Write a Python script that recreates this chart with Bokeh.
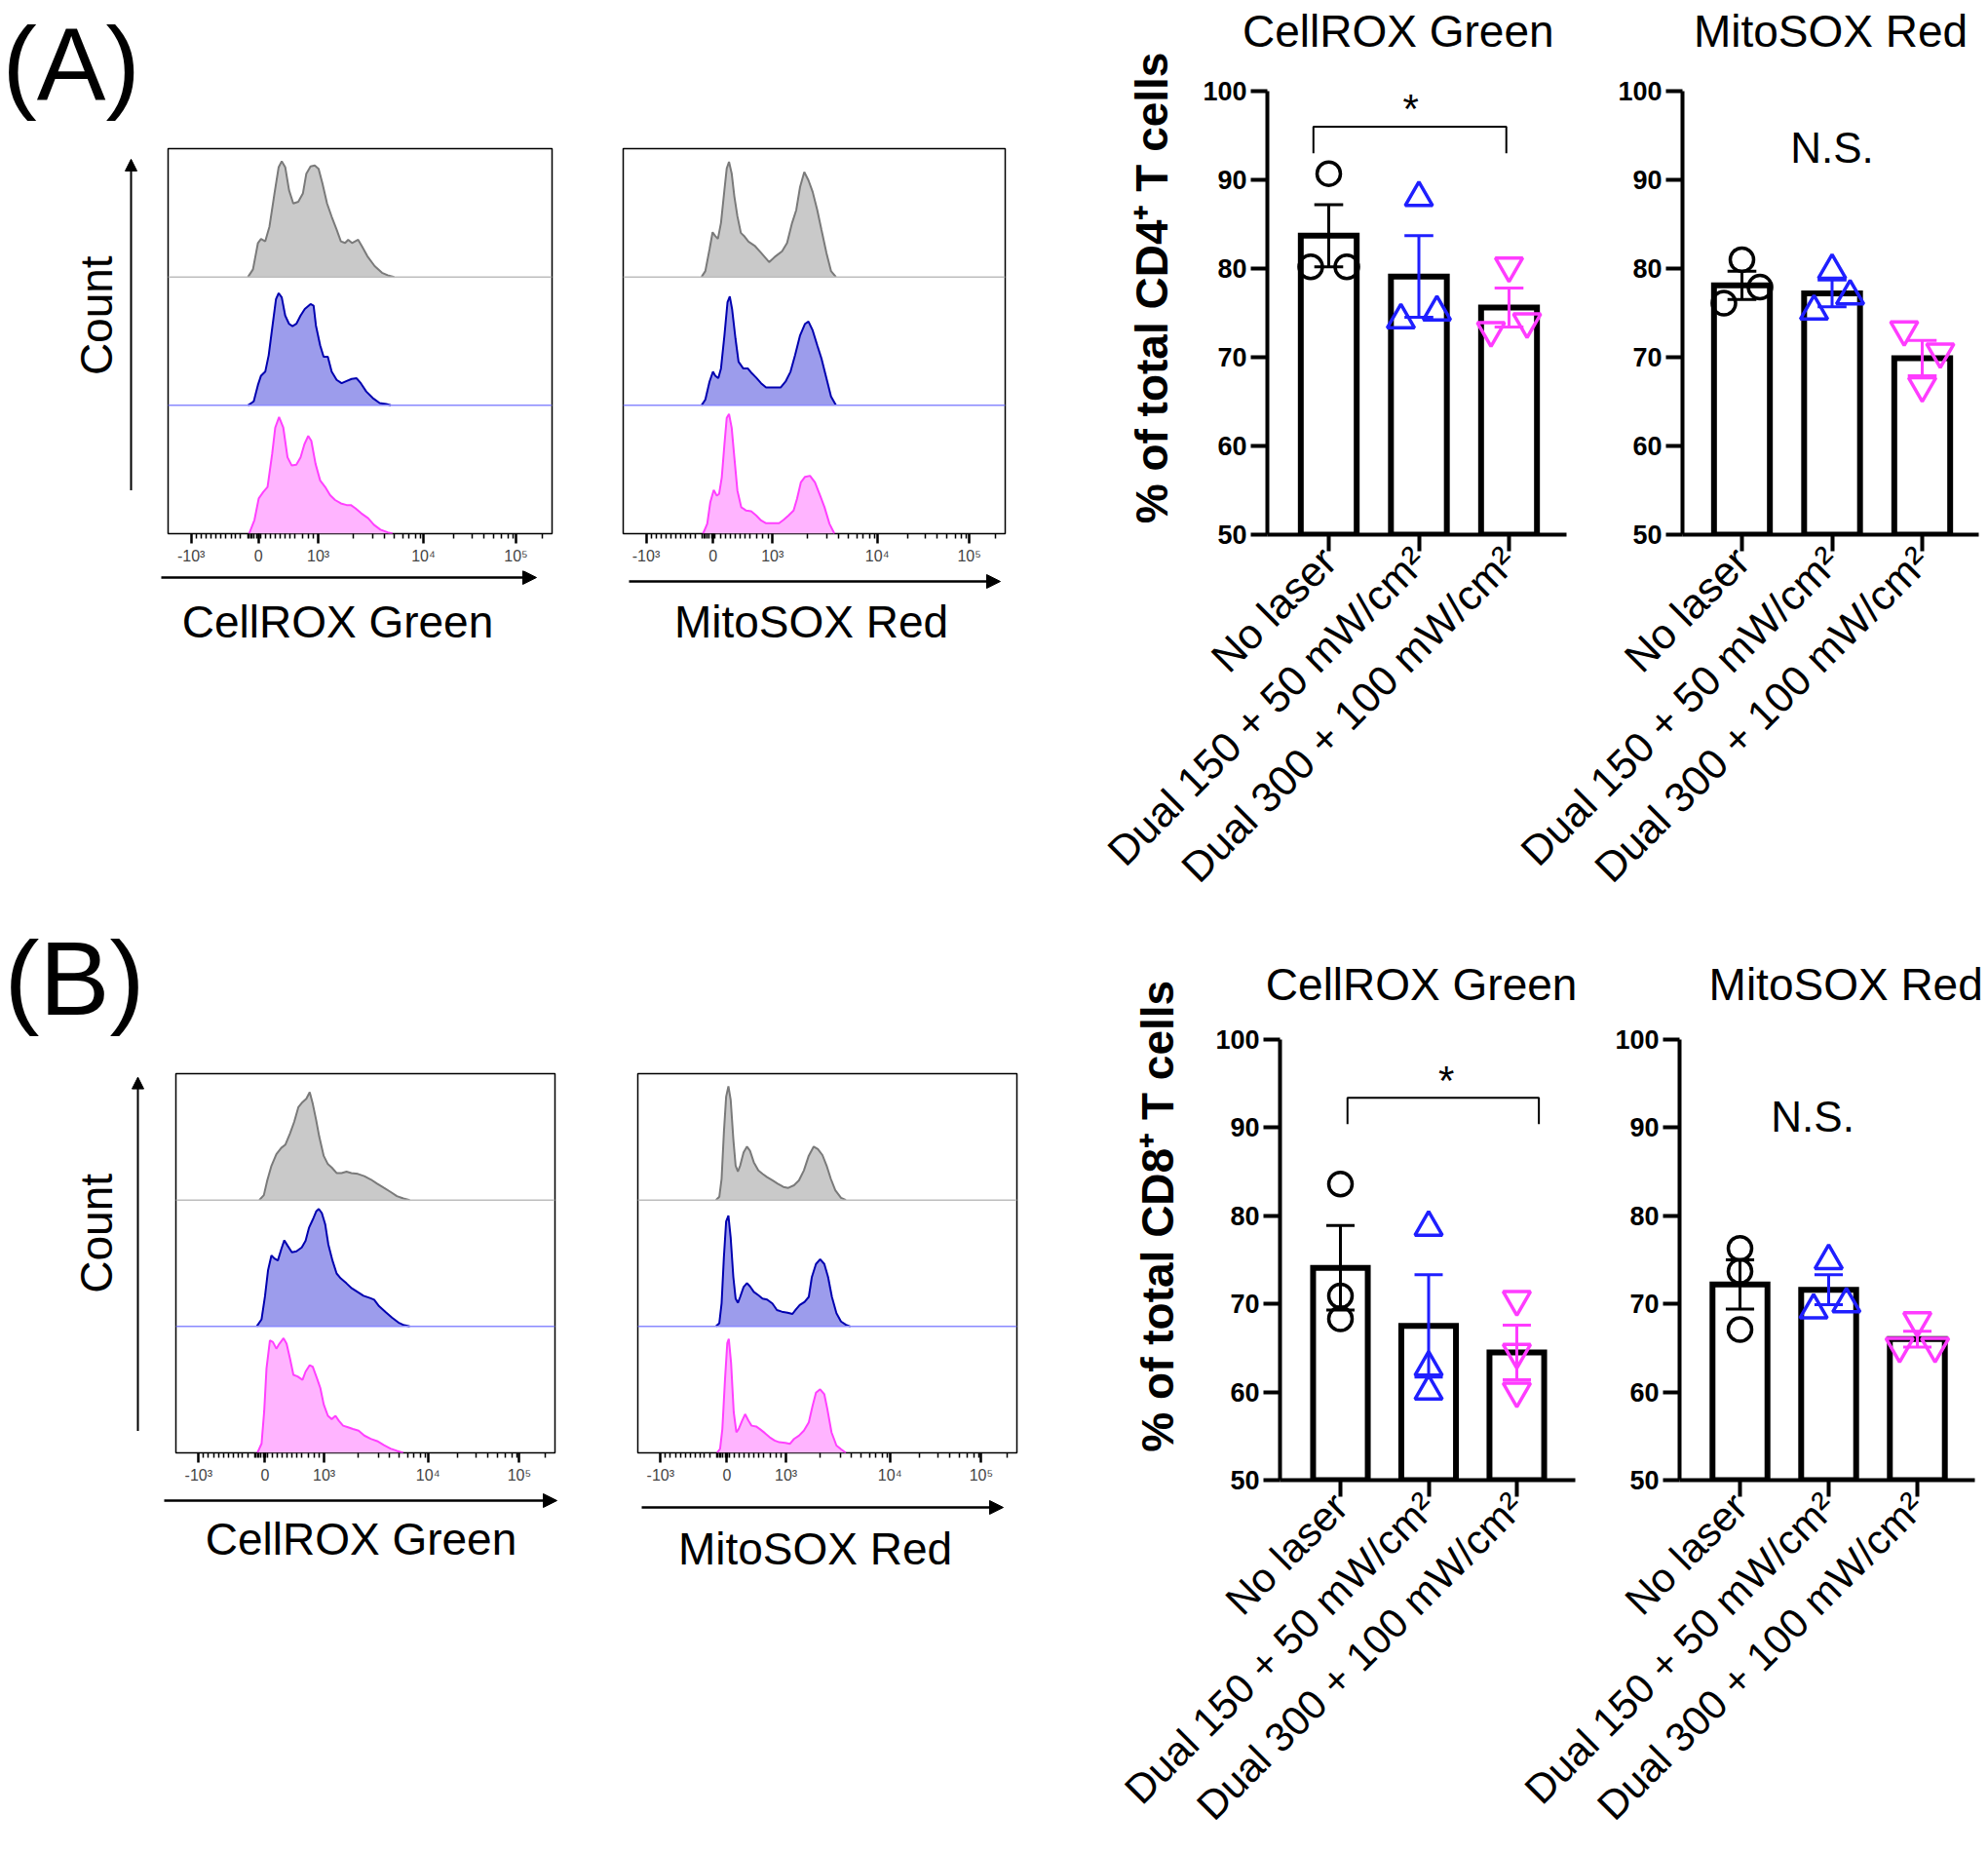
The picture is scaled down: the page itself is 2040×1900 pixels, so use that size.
import math
from bokeh.plotting import figure
from bokeh.layouts import row, column
from bokeh.models import Range1d, FixedTicker, Arrow, NormalHead, Span, Spacer, LinearAxis
from bokeh.core.properties import value
from bokeh.embed import file_html
from bokeh.resources import INLINE

FONT = "Liberation Sans"
NB = "\u00a0"

# ---------------- categories / styles ----------------
GROUPS = ["No laser", "Dual 150 + 50 mW/cm²", "Dual 300 + 100 mW/cm²"]
CAT_POS = [1, 2, 3]
Y_TICKS = [50, 60, 70, 80, 90, 100]
GROUP_COLORS = ["#000000", "#1f1fff", "#ff3cff"]
GROUP_MARKERS = ["circle", "triangle", "inverted_triangle"]
MARKER_SIZES = [24, 28, 28]
HIST_FILL = ["#c9c9c9", "#9c9cec", "#ffb4ff"]
HIST_LINE = ["#7a7a7a", "#0000b0", "#ff40ff"]
HIST_BASE = ["#bdbdbd", "#8a8aff"]

# ---------------- bar chart data (% of total cells) ----------------
cd4_cellrox_mean = [83.7, 79.1, 75.6]
cd4_cellrox_sem = [3.5, 4.6, 2.2]
cd4_cellrox_pts = [[90.7, 80.2, 80.2], [88.0, 74.2, 75.1], [80.3, 73.0, 74.0]]
cd4_cellrox_jit = [[0, -0.2, 0.2], [0, -0.2, 0.2], [0, -0.2, 0.2]]

cd4_mitosox_mean = [78.1, 77.2, 69.9]
cd4_mitosox_sem = [1.6, 1.5, 2.0]
cd4_mitosox_pts = [[81.0, 76.1, 77.9], [79.8, 75.2, 76.9], [66.8, 73.1, 70.6]]
cd4_mitosox_jit = [[0, -0.2, 0.2], [0, -0.2, 0.2], [0, -0.2, 0.2]]

cd8_cellrox_mean = [74.1, 67.5, 64.5]
cd8_cellrox_sem = [4.8, 5.8, 3.1]
cd8_cellrox_pts = [[83.6, 70.9, 68.3], [78.7, 62.8, 60.1], [70.5, 64.5, 60.1]]
cd8_cellrox_jit = [[0, 0, 0], [0, 0, 0], [0, 0, 0]]

cd8_mitosox_mean = [72.2, 71.6, 66.0]
cd8_mitosox_sem = [2.8, 1.7, 0.9]
cd8_mitosox_pts = [[76.3, 73.7, 67.1], [74.9, 69.3, 70.0], [68.1, 65.2, 65.2]]
cd8_mitosox_jit = [[0, 0, 0], [0, -0.17, 0.2], [0, -0.2, 0.2]]

# significance marks (category units / % values):
# bracket (x left, x right, top, leg bottom), star (x, y), N.S. (x, y)
cd4_cellrox_bracket = (0.83, 2.97, 96.0, 93.0)
cd4_cellrox_star = (1.91, 98.0)
cd4_mitosox_ns = (2.0, 93.6)
cd8_cellrox_bracket = (1.08, 3.25, 93.4, 90.4)
cd8_cellrox_star = (2.2, 95.4)
cd8_mitosox_ns = (1.82, 91.3)

# ---------------- flow histogram axis (display units 0-100 across box) ----------------
HIST_TICKS = [6.0, 23.5, 39.1, 66.5, 90.6]
HIST_TICK_LABELS = ["-10³", "0", "10³", "10⁴", "10⁵"]
HIST_MINOR = [7.3, 8.6, 9.9, 11.2, 12.5, 13.8, 15.1, 16.4, 17.6, 18.9, 20.7, 21.1, 21.5,
              21.9, 22.4, 23.2, 23.7, 24.1, 25.4, 26.7, 28.0, 29.3, 30.5, 31.8, 33.1, 34.9,
              36.6, 37.9, 48.2, 53.4, 56.4, 58.9, 61.1, 62.8, 64.5, 65.7, 74.4, 79.2, 82.2,
              84.8, 86.9, 88.6, 89.9, 97.5]

# ---- CD4 CellROX Green histograms (x: display units, h: % of row height)
cd4_cr_nl_x = [20.8, 22.1, 23.4, 24.2, 25.3, 26.4, 27.7, 28.8, 29.6, 30.5, 31.5, 32.6, 33.9, 35.1, 36.0, 37.1, 38.2, 39.2, 40.2, 41.4, 42.6, 43.9, 45.0, 46.1, 46.9, 47.9, 49.5, 50.5, 51.9, 53.8, 55.7, 57.2, 58.9]
cd4_cr_nl_h = [0, 5.9, 26.5, 29.6, 27.8, 39.3, 65.0, 85.6, 90.2, 85.6, 67.6, 57.3, 58.6, 65.0, 80.5, 86.1, 86.9, 84.3, 72.8, 57.3, 47.0, 36.8, 27.8, 26.5, 29.0, 26.5, 29.0, 23.9, 16.2, 8.5, 3.3, 1.3, 0]
cd4_cr_150_x = [20.8, 22.3, 23.4, 24.2, 25.3, 26.2, 27.2, 28.1, 28.8, 29.6, 30.5, 31.5, 32.4, 33.4, 34.5, 35.6, 37.1, 37.9, 38.5, 39.6, 40.5, 41.6, 42.6, 43.9, 45.2, 46.5, 47.8, 49.1, 50.2, 51.6, 53.3, 55.1, 56.8, 58.0]
cd4_cr_150_h = [0, 3.1, 15.9, 23.1, 26.2, 39.1, 62.2, 82.8, 87.4, 84.1, 69.9, 63.5, 61.7, 63.5, 69.9, 75.1, 78.9, 77.6, 62.2, 46.8, 37.8, 37.8, 26.2, 19.8, 17.2, 19.0, 20.6, 21.1, 17.2, 10.8, 5.7, 1.8, 1.0, 0]
cd4_cr_300_x = [21.1, 22.5, 23.6, 24.8, 25.9, 27.1, 27.9, 28.9, 30.0, 31.1, 32.2, 33.4, 34.5, 35.5, 36.5, 37.3, 38.4, 39.6, 40.9, 42.2, 43.5, 45.0, 46.5, 47.6, 48.8, 50.3, 52.1, 53.6, 55.3, 57.2, 58.5]
cd4_cr_300_h = [0, 10.8, 27.4, 32.6, 36.4, 62.1, 82.6, 90.8, 82.6, 59.5, 53.1, 53.8, 59.5, 69.7, 76.2, 72.3, 54.4, 41.5, 36.4, 30.0, 26.2, 23.6, 22.3, 22.3, 19.7, 15.9, 12.1, 6.9, 3.1, 1.0, 0]

# ---- CD4 MitoSOX Red histograms
cd4_ms_nl_x = [20.5, 21.5, 22.6, 23.4, 24.1, 24.8, 25.6, 26.5, 27.1, 27.7, 28.4, 29.1, 29.9, 30.8, 31.8, 32.8, 34.4, 36.1, 38.2, 39.9, 41.6, 42.9, 44.2, 45.3, 46.3, 47.4, 48.5, 49.6, 50.8, 51.9, 53.2, 54.4, 55.7]
cd4_ms_nl_h = [0, 4.6, 21.6, 34.9, 31.9, 29.8, 42.2, 67.9, 84.6, 89.7, 80.7, 62.7, 47.3, 34.4, 31.4, 27.5, 24.4, 18.8, 11.6, 16.2, 20.1, 26.5, 42.0, 52.2, 70.2, 81.8, 75.3, 66.3, 52.2, 36.8, 18.8, 4.6, 0]
cd4_ms_150_x = [20.5, 21.5, 22.6, 23.5, 24.1, 24.9, 25.6, 26.5, 27.3, 27.9, 28.5, 29.4, 30.2, 31.4, 32.6, 33.7, 34.8, 36.1, 37.4, 38.6, 39.9, 41.2, 42.5, 43.8, 45.0, 46.3, 47.6, 48.5, 49.6, 50.8, 51.9, 53.2, 54.4, 55.7]
cd4_ms_150_h = [0, 4.4, 18.5, 26.2, 23.1, 21.1, 28.8, 54.5, 80.2, 84.8, 75.1, 51.9, 33.9, 28.8, 28.8, 24.9, 21.6, 17.2, 13.9, 13.9, 13.9, 13.9, 18.5, 26.2, 39.1, 54.5, 63.5, 65.3, 58.4, 46.8, 36.5, 21.1, 6.9, 0]
cd4_ms_300_x = [20.9, 22.0, 22.8, 23.7, 24.5, 25.1, 25.8, 26.5, 27.1, 27.7, 28.4, 29.1, 29.9, 30.9, 32.2, 33.5, 34.8, 36.1, 37.3, 39.1, 40.8, 42.0, 43.3, 44.6, 45.5, 46.5, 47.6, 48.9, 50.2, 51.4, 52.7, 54.0, 55.3]
cd4_ms_300_h = [0, 7.7, 24.5, 34.0, 29.6, 30.9, 43.8, 69.6, 90.2, 93.3, 82.5, 59.3, 33.5, 20.6, 18.0, 17.5, 14.2, 10.3, 8.2, 8.2, 8.2, 10.8, 14.2, 18.0, 27.1, 39.9, 44.3, 45.1, 39.9, 30.9, 20.6, 7.7, 0]

# ---- CD8 CellROX Green histograms
cd8_cr_nl_x = [22.0, 23.2, 24.1, 25.2, 26.5, 27.8, 28.9, 30.1, 31.2, 32.3, 33.4, 34.4, 35.3, 36.1, 37.0, 37.8, 39.0, 40.1, 41.1, 42.4, 43.7, 45.0, 46.3, 48.0, 49.7, 51.4, 53.1, 54.9, 56.6, 58.3, 60.0, 61.7]
cd8_cr_nl_h = [0, 3.9, 15.5, 27.1, 36.2, 41.3, 43.9, 52.7, 61.8, 73.4, 77.5, 80.1, 85.3, 76.2, 63.3, 50.4, 34.9, 28.4, 25.8, 21.4, 21.4, 22.5, 21.4, 20.7, 18.9, 16.3, 12.9, 9.6, 6.5, 3.1, 1.3, 0]
cd8_cr_150_x = [21.3, 22.6, 23.5, 24.3, 25.2, 26.1, 26.9, 27.8, 28.6, 29.5, 30.6, 31.8, 33.2, 34.2, 35.1, 36.1, 37.0, 37.7, 38.5, 39.4, 40.2, 41.3, 42.4, 43.5, 45.0, 46.4, 47.8, 49.5, 51.2, 52.3, 53.6, 55.3, 57.0, 58.7, 60.2, 61.7]
cd8_cr_150_h = [0, 5.7, 23.8, 44.4, 56.1, 53.5, 52.2, 61.2, 68.2, 63.8, 58.7, 59.4, 62.5, 67.7, 78.0, 84.5, 91.0, 93.0, 89.7, 80.6, 65.1, 52.2, 41.9, 38.0, 34.1, 30.2, 27.6, 24.3, 22.5, 21.2, 16.0, 11.4, 7.0, 3.1, 1.0, 0]
cd8_cr_300_x = [21.5, 22.6, 23.3, 23.9, 24.8, 25.6, 26.5, 27.3, 28.4, 29.2, 30.1, 31.0, 32.1, 33.4, 34.2, 35.3, 36.1, 37.2, 38.1, 39.0, 40.1, 41.1, 42.1, 43.0, 44.1, 45.4, 46.7, 48.2, 49.7, 51.4, 53.1, 54.9, 56.6, 58.3, 60.0]
cd8_cr_300_h = [0, 7.3, 33.2, 66.8, 88.9, 87.6, 82.4, 86.3, 90.7, 86.3, 74.6, 61.7, 60.4, 57.8, 64.2, 69.4, 68.1, 59.1, 51.3, 38.3, 29.3, 26.7, 29.3, 25.4, 21.5, 20.2, 18.9, 17.6, 13.7, 11.1, 9.3, 6.0, 3.4, 1.6, 0]

# ---- CD8 MitoSOX Red histograms
cd8_ms_nl_x = [20.6, 21.5, 22.1, 22.7, 23.3, 23.9, 24.5, 25.2, 25.8, 26.4, 27.0, 27.9, 28.8, 29.6, 30.6, 31.8, 32.9, 34.1, 35.5, 36.9, 38.4, 39.7, 41.2, 42.5, 43.8, 45.1, 46.4, 47.5, 48.7, 49.8, 50.9, 52.1, 53.6, 54.9]
cd8_ms_nl_h = [0, 2.6, 16.9, 53.2, 81.8, 90.1, 79.2, 48.1, 27.3, 22.6, 27.3, 37.7, 42.3, 39.0, 29.9, 23.4, 20.8, 18.2, 15.6, 13.0, 10.4, 9.6, 11.7, 15.6, 23.4, 35.1, 42.3, 40.3, 35.6, 27.3, 16.9, 7.8, 1.8, 0]
cd8_ms_150_x = [20.6, 21.5, 22.1, 22.7, 23.3, 23.9, 24.5, 25.2, 25.8, 26.4, 27.0, 27.9, 28.8, 29.6, 30.6, 31.8, 32.9, 34.1, 35.5, 36.7, 38.0, 39.5, 40.8, 41.6, 42.7, 44.0, 45.1, 45.9, 47.0, 48.1, 49.2, 50.2, 51.2, 52.4, 53.6, 54.9, 56.1]
cd8_ms_150_h = [0, 2.6, 18.2, 54.5, 83.1, 87.8, 70.1, 39.0, 22.1, 18.7, 23.4, 31.2, 34.3, 31.7, 27.3, 24.7, 22.1, 21.3, 18.2, 13.0, 11.7, 10.9, 9.9, 13.0, 16.9, 19.5, 23.4, 39.0, 49.4, 53.2, 49.4, 39.0, 23.4, 10.4, 3.9, 1.3, 0]
cd8_ms_300_x = [20.9, 21.7, 22.3, 23.0, 23.6, 24.0, 24.6, 25.3, 26.0, 26.6, 27.5, 28.3, 29.2, 30.0, 31.2, 32.2, 33.5, 34.8, 36.1, 37.3, 38.9, 40.1, 41.2, 42.5, 43.8, 45.1, 46.1, 47.0, 48.1, 49.2, 50.0, 51.1, 52.4, 53.6, 54.9]
cd8_ms_300_h = [0, 3.1, 18.8, 58.1, 86.9, 90.1, 71.2, 32.2, 16.2, 18.8, 25.4, 30.6, 25.4, 21.5, 20.9, 18.8, 15.7, 12.3, 9.7, 8.4, 7.9, 7.1, 11.0, 13.6, 17.5, 24.1, 37.2, 47.6, 50.3, 46.3, 34.6, 16.2, 5.8, 2.9, 0]


# ---------------- helpers ----------------
def canvas(x0, x1, y0, y1):
    """Blank figure whose data coordinates equal page pixels."""
    p = figure(width=x1 - x0, height=y1 - y0, x_range=Range1d(x0, x1), y_range=Range1d(y1, y0),
               output_backend="svg", toolbar_location=None, min_border=0,
               x_axis_location=None, y_axis_location=None)
    p.grid.visible = False
    p.outline_line_color = None
    return p


def add_text(p, x, y, txt, size, angle=0.0, align="center", baseline="middle", style="normal"):
    p.text(x=[x], y=[y], text=[txt], angle=angle, text_font=value(FONT), text_font_size=size,
           text_font_style=style, text_align=align, text_baseline=baseline, text_color="black")


def add_arrow(p, xs, ys, xe, ye, head=12, lw=2.0):
    p.add_layout(Arrow(end=NormalHead(size=head, fill_color="black", line_color="black", line_width=1),
                       x_start=xs, y_start=ys, x_end=xe, y_end=ye, line_color="black", line_width=lw))


def hist_panel(w, h, bl, bt, fw, fh, curves):
    p = figure(width=w, height=h, x_range=Range1d(0, 100), y_range=Range1d(0, 3),
               output_backend="svg", toolbar_location=None, y_axis_location=None,
               min_border_left=bl, min_border_right=w - bl - fw,
               min_border_top=bt, min_border_bottom=h - bt - fh)
    p.grid.visible = False
    p.outline_line_color = "black"
    p.outline_line_width = 1.5
    p.outline_line_alpha = 1.0
    ax = p.below[0]
    ax.ticker = FixedTicker(ticks=HIST_TICKS, minor_ticks=HIST_MINOR)
    ax.major_label_overrides = {t: l for t, l in zip(HIST_TICKS, HIST_TICK_LABELS)}
    ax.axis_line_color = None
    ax.major_tick_out = 10
    ax.major_tick_in = 0
    ax.major_tick_line_width = 2.5
    ax.minor_tick_out = 5
    ax.minor_tick_in = 0
    ax.minor_tick_line_width = 1.5
    ax.major_label_text_font = FONT
    ax.major_label_text_font_size = "16px"
    ax.major_label_standoff = 4
    for i, (xs, hs) in enumerate(curves):
        base = 2 - i
        ys = [base + v / 100.0 for v in hs]
        p.varea(x=xs, y1=[base] * len(xs), y2=ys, fill_color=HIST_FILL[i], fill_alpha=1.0)
        p.line(xs, ys, line_color=HIST_LINE[i], line_width=2)
    for i, b in enumerate([2, 1]):
        p.add_layout(Span(location=b, dimension="width", line_color=HIST_BASE[i], line_width=1.5))
    return p


def bar_panel(fig_box, frame_box, cat0_px, step_px, means, sems, pts, jits,
              title, title_standoff, label_size, ylabel=None, ylabel_standoff=0,
              bracket=None, star=None, ns=None, transparent=False):
    fx0, fy0, fx1, fy1 = fig_box
    FL, FT, FR, FB = frame_box
    x0 = 1 - (cat0_px - FL) / step_px
    x1 = 1 + (FR - cat0_px) / step_px
    p = figure(width=fx1 - fx0, height=fy1 - fy0, x_range=Range1d(x0, x1), y_range=Range1d(50, 100),
               output_backend="svg", toolbar_location=None,
               min_border_left=FL - fx0, min_border_right=fx1 - FR,
               min_border_top=FT - fy0, min_border_bottom=fy1 - FB)
    p.grid.visible = False
    p.outline_line_color = None
    if transparent:
        p.border_fill_color = None
        p.background_fill_color = None
    xa = p.below[0]
    ya = p.left[0]

    cats = [float(c) for c in CAT_POS]
    p.vbar(x=cats, top=means, bottom=50, width=0.62, fill_color="white",
           line_color="black", line_width=6, line_join="miter")
    lo = [m - s for m, s in zip(means, sems)]
    hi = [m + s for m, s in zip(means, sems)]
    cw = 0.16
    p.segment(x0=cats, y0=lo, x1=cats, y1=hi, line_color=GROUP_COLORS, line_width=3)
    for yy in (lo, hi):
        p.segment(x0=[c - cw for c in cats], y0=yy, x1=[c + cw for c in cats], y1=yy,
                  line_color=GROUP_COLORS, line_width=3)
    for i in range(3):
        xs = [cats[i] + j for j in jits[i]]
        p.scatter(xs, pts[i], marker=GROUP_MARKERS[i], size=MARKER_SIZES[i], fill_color=None,
                  line_color=GROUP_COLORS[i], line_width=3.5)
    if bracket is not None:
        xl, xr, yt, yb = bracket
        p.line([xl, xl, xr, xr], [yb, yt, yt, yb], line_color="black", line_width=2)
    if star is not None:
        add_text(p, star[0], star[1], "*", "42px")
    if ns is not None:
        add_text(p, ns[0], ns[1], "N.S.", "44px")

    # panel title as the label of a tick-less axis above the frame
    tax = LinearAxis(ticker=FixedTicker(ticks=[]), axis_label=title,
                     axis_label_standoff=title_standoff, axis_label_text_font=FONT,
                     axis_label_text_font_size="46px", axis_label_text_font_style="normal",
                     axis_label_text_color="black",
                     axis_line_color=None, major_tick_line_color=None, minor_tick_line_color=None,
                     major_tick_out=0, major_tick_in=0, minor_tick_out=0, minor_tick_in=0,
                     major_label_standoff=0, major_label_text_font_size="0px")
    p.add_layout(tax, "above")

    ya.ticker = FixedTicker(ticks=Y_TICKS)
    ya.major_label_text_font = FONT
    ya.major_label_text_font_size = "27px"
    ya.major_label_text_font_style = "bold"
    ya.major_label_text_color = "black"
    ya.axis_line_width = 4
    ya.major_tick_line_width = 4
    ya.major_tick_out = 17
    ya.major_tick_in = 0
    ya.minor_tick_line_color = None
    ya.major_label_standoff = 4
    if ylabel is not None:
        ya.axis_label = ylabel
        ya.axis_label_standoff = ylabel_standoff
        ya.axis_label_text_font = FONT
        ya.axis_label_text_font_size = "46px"
        ya.axis_label_text_font_style = "bold"
        ya.axis_label_text_color = "black"

    xa.ticker = FixedTicker(ticks=cats)
    xa.major_label_overrides = {c: g for c, g in zip(cats, GROUPS)}
    xa.major_label_orientation = math.pi / 4
    xa.major_label_text_font = FONT
    xa.major_label_text_font_size = label_size
    xa.major_label_text_color = "black"
    xa.major_label_standoff = 3
    xa.axis_line_width = 4
    xa.major_tick_line_width = 4
    xa.major_tick_out = 17
    xa.major_tick_in = 0
    xa.minor_tick_line_color = None
    return p


# ---------------- panel A (CD4) ----------------
headA = canvas(0, 1100, 0, 149)
add_text(headA, 2, 64, "(A)", "106px", align="left")

countA = canvas(0, 169, 149, 585)
add_text(countA, 98, 338, "Count", "46px", angle=math.pi / 2)
add_arrow(countA, 134, 536, 134, 161)

HA1 = hist_panel(431, 436, 3, 3, 394, 395,
                 [(cd4_cr_nl_x, cd4_cr_nl_h), (cd4_cr_150_x, cd4_cr_150_h), (cd4_cr_300_x, cd4_cr_300_h)])
HA2 = hist_panel(500, 436, 39, 3, 392, 395,
                 [(cd4_ms_nl_x, cd4_ms_nl_h), (cd4_ms_150_x, cd4_ms_150_h), (cd4_ms_300_x, cd4_ms_300_h)])

xlabA = canvas(0, 1100, 585, 670)
add_arrow(xlabA, 165, 592, 550, 592, head=14, lw=2.5)
add_arrow(xlabA, 645, 596, 1026, 596, head=14, lw=2.5)
add_text(xlabA, 346, 637, "CellROX Green", "46px")
add_text(xlabA, 832, 637, "MitoSOX Red", "46px")

colA = column(headA, row(countA, HA1, HA2), xlabA, Spacer(width=1100, height=265))

BA1 = bar_panel((1100, 0, 1640, 935), (1300, 93, 1607, 548), 1363, 92.5,
                cd4_cellrox_mean, cd4_cellrox_sem, cd4_cellrox_pts, cd4_cellrox_jit,
                "CellROX Green" + NB * 3, 36, "43px",
                ylabel=NB * 4 + "% of total CD4⁺ T cells", ylabel_standoff=23,
                bracket=cd4_cellrox_bracket, star=cd4_cellrox_star)
# second chart overlaps the first by 100 px (transparent) so its slanted labels are not cut
BA2 = bar_panel((1540, 0, 2040, 935), (1726, 93, 2030, 551), 1787, 92.5,
                cd4_mitosox_mean, cd4_mitosox_sem, cd4_mitosox_pts, cd4_mitosox_jit,
                "MitoSOX Red", 36, "43px", ns=cd4_mitosox_ns, transparent=True)
BA2.margin = (0, 0, 0, -100)

rowA = row(colA, BA1, BA2)

# ---------------- panel B (CD8) ----------------
headB = canvas(0, 1100, 935, 1098)
add_text(headB, 4, 1003, "(B)", "108px", align="left")

countB = canvas(0, 177, 1098, 1530)
add_text(countB, 98, 1280, "Count", "46px", angle=math.pi / 2)
add_arrow(countB, 141, 1505, 141, 1102)

HB1 = hist_panel(433, 432, 3, 3, 389, 389,
                 [(cd8_cr_nl_x, cd8_cr_nl_h), (cd8_cr_150_x, cd8_cr_150_h), (cd8_cr_300_x, cd8_cr_300_h)])
HB2 = hist_panel(490, 432, 44, 3, 389, 389,
                 [(cd8_ms_nl_x, cd8_ms_nl_h), (cd8_ms_150_x, cd8_ms_150_h), (cd8_ms_300_x, cd8_ms_300_h)])

xlabB = canvas(0, 1100, 1530, 1620)
add_arrow(xlabB, 168, 1539, 571, 1539, head=14, lw=2.5)
add_arrow(xlabB, 658, 1546, 1029, 1546, head=14, lw=2.5)
add_text(xlabB, 370, 1578, "CellROX Green", "46px")
add_text(xlabB, 836, 1588, "MitoSOX Red", "46px")

colB = column(headB, row(countB, HB1, HB2), xlabB, Spacer(width=1100, height=276))

BB1 = bar_panel((1100, 935, 1640, 1896), (1313, 1066, 1616, 1518), 1375, 90.5,
                cd8_cellrox_mean, cd8_cellrox_sem, cd8_cellrox_pts, cd8_cellrox_jit,
                "CellROX Green" + NB, 31, "42px",
                ylabel=NB * 7 + "% of total CD8⁺ T cells", ylabel_standoff=30,
                bracket=cd8_cellrox_bracket, star=cd8_cellrox_star)
BB2 = bar_panel((1540, 935, 2040, 1896), (1723, 1066, 2026, 1518), 1785, 91.0,
                cd8_mitosox_mean, cd8_mitosox_sem, cd8_mitosox_pts, cd8_mitosox_jit,
                NB * 3 + "MitoSOX Red", 31, "42px", ns=cd8_mitosox_ns, transparent=True)
BB2.margin = (0, 0, 0, -100)

rowB = row(colB, BB1, BB2)

layout = column(rowA, rowB)
open("out.html", "w").write(file_html(layout, INLINE, title="CellROX / MitoSOX"))
